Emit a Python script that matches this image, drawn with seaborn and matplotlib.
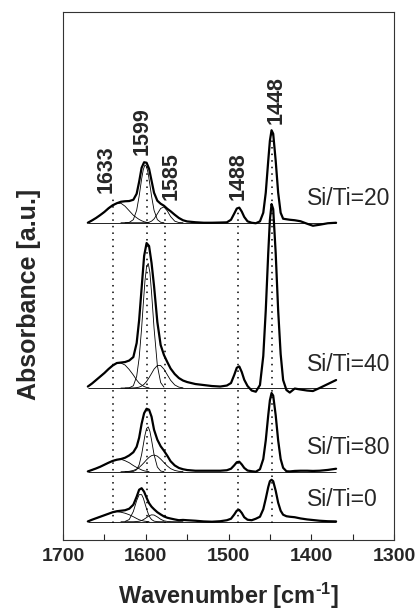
import pandas as pd
import matplotlib
matplotlib.use("Agg")
import matplotlib.pyplot as plt
import seaborn as sns

# --- measured spectra (wavenumber in cm-1, absorbance in a.u. above each baseline) ---
wn = [1670, 1665, 1660, 1655, 1650, 1645, 1640, 1635, 1630, 1625,
      1620, 1615, 1611, 1608, 1605, 1602, 1599, 1596, 1593, 1590,
      1586, 1582, 1578, 1574, 1570, 1565, 1560, 1555, 1550, 1540,
      1530, 1520, 1510, 1502, 1497, 1493, 1490, 1487, 1484, 1481,
      1477, 1472, 1467, 1462, 1458, 1455, 1452, 1450, 1448, 1446,
      1443, 1440, 1437, 1434, 1430, 1426, 1420, 1413, 1405, 1398,
      1390, 1380, 1370]

total_20 = [0, 2.3, 4.8, 7.7, 10.8, 14.5, 17.5, 19.5, 21, 21.5,
            21.7, 23, 29, 41, 55, 60.5, 60, 54, 42, 30,
            22, 19, 17, 14, 11.5, 8, 4.8, 2.5, 1.3, 0.5,
            0, 0, 0.2, 0.4, 3, 9.3, 14.2, 15.1, 11.2, 5.8,
            1.4, 0, -0.5, 1.4, 10, 30, 62, 82, 92.5, 89,
            62, 30, 10, 4, 3.5, 3, 2.5, 1.5, -1, -3,
            -2, -0.5, 0]
total_40 = [1.5, 4.5, 8, 11.5, 15, 19, 22.5, 25, 25.5, 26,
            27.5, 31, 45, 68, 100, 132, 145, 142, 125, 102,
            66, 43, 33, 26, 19.5, 14, 10, 7.5, 6, 4,
            3, 2, 1.5, 2.5, 5, 13.3, 20.3, 21.6, 16, 8.3,
            2, -2.5, -3.7, 3, 32, 77.5, 135, 168, 184, 179,
            135, 77.5, 34, 8, -2, -4.5, -0.5, -1.5, -2.5, -3,
            0, 4, 8]
total_80 = [0.3, 1.8, 3.3, 5, 7, 9, 10.8, 12, 12.7, 14,
            16.3, 19.5, 25, 34, 48, 58.5, 63, 62, 55, 42,
            32, 25.5, 21, 16, 10.5, 6.3, 3.8, 2.5, 1.7, 1,
            1, 1, 1, 1.5, 3, 6.5, 9.5, 10, 7.3, 3.8,
            1.2, 0.5, 0, 2.5, 12.7, 31.3, 56.5, 71.4, 78.7, 76.1,
            56.5, 31.3, 12.7, 3.9, 0.5, 0.3, 0.8, 1, 1, 0.8,
            1, 1.8, 3]
total_0 = [0.3, 2, 3.5, 5, 6.5, 8, 9.5, 10.5, 11, 11.5,
           13, 17, 25, 32, 33.5, 30, 24, 18.5, 15, 12.5,
           9.5, 7.3, 5.3, 4, 3.2, 2.3, 1.5, 1.8, 1.5, 1,
           0.3, 0, 0.5, 1.5, 3, 7.3, 11.1, 11.8, 8.8, 4.5,
           2, 1.5, 3, 5, 12.5, 23, 34.6, 40.5, 42, 40.5,
           31, 19, 11, 7, 5.5, 5, 4.5, 3.3, 2.3, 1.7,
           1, 0.5, 0.3]

# --- deconvoluted bands ---
wn_1633 = [1670, 1665, 1660, 1655, 1650, 1645, 1640, 1635, 1630, 1625,
           1620, 1615, 1611, 1608, 1605, 1602, 1599, 1596]
band1633_20 = [0, 2.3, 4.8, 7.7, 10.8, 14, 17, 19.3, 19.5, 16.5, 12, 7.5, 5, 3.3, 2, 1, 0.4, 0]
band1633_40 = [1.5, 4.5, 8, 11.5, 15, 19, 22.5, 25, 25, 23, 18.5, 13, 8, 5, 3, 1.5, 0.6, 0.2]
band1633_80 = [0.3, 1.8, 3.3, 5, 7, 9, 10.8, 12.2, 12.5, 11, 9, 6.2, 4.3, 3, 1.8, 0.9, 0.4, 0.1]
band1633_0 = [0.3, 2, 3.5, 5, 6.5, 8, 9.5, 10, 9.5, 8.5, 7, 5, 3.2, 2, 1.2, 0.6, 0.3, 0.1]

wn_1599 = [1625, 1620, 1615, 1611, 1608, 1605, 1603, 1601, 1599, 1597,
           1595, 1593, 1590, 1586, 1582, 1578]
band1599_20 = [0, 0.3, 3.1, 12.5, 26.6, 43.8, 53.1, 57.8, 56.2, 49, 38, 26.6, 12.5, 3.1, 0.5, 0]
band1599_40 = [0, 0.2, 2.3, 11.6, 30, 60, 84, 107, 121.5, 124.6, 115.5, 95.5, 60, 22.5, 5.5, 0.9]
band1599_80 = [0, 0, 0.3, 2, 6.9, 17.2, 26.8, 36.4, 43.3, 44.8, 40.4, 31.7, 17.2, 4.7, 0.7, 0.1]
band1599_0 = [0.3, 2.2, 10.3, 21.1, 27.1, 27.1, 23.7, 18.3, 12.8, 8, 4.4, 2.2, 0.6, 0.1, 0, 0]

wn_1585 = [1630, 1625, 1620, 1615, 1611, 1608, 1605, 1602, 1599, 1596,
           1593, 1590, 1586, 1582, 1578, 1574, 1570, 1565, 1560, 1555]
band1585_20 = [0, 0, 0, 0, 0, 0, 0, 0, 0.15, 0.5, 1.6, 3.8, 8.9, 14.3, 15.8, 11.9, 6.2, 1.6, 0.2, 0]
band1585_40 = [0, 0, 0, 0.1, 0.4, 0.9, 2, 3.8, 6.6, 10.4, 14.6, 18.9, 22.5, 22.5, 18.9, 13.3, 7.8, 3.1, 0.9, 0.2]
band1585_80 = [0, 0.1, 0.4, 1.3, 2.7, 4.3, 6.6, 9.2, 12, 14.4, 16.1, 16.7, 15.6, 12.7, 9.2, 5.8, 3.1, 1.3, 0.4, 0.1]
band1585_0 = [0, 0, 0, 0, 0.2, 0.5, 1.2, 2.5, 4.2, 5.9, 6.9, 6.7, 4.8, 2.5, 0.9, 0.3, 0.1, 0, 0, 0]

samples = ["Si/Ti=20", "Si/Ti=40", "Si/Ti=80", "Si/Ti=0"]
totals = [total_20, total_40, total_80, total_0]
bands = {
    "1633": (wn_1633, [band1633_20, band1633_40, band1633_80, band1633_0]),
    "1599": (wn_1599, [band1599_20, band1599_40, band1599_80, band1599_0]),
    "1585": (wn_1585, [band1585_20, band1585_40, band1585_80, band1585_0]),
}

band_labels = ["1633", "1599", "1585", "1488", "1448"]
band_lines = [1640, 1599, 1577, 1488, 1447.5]

# --- layout (vertical stacking in plot units) ---
offsets = [317.3, 152, 68.3, 18.3]
label_base = [335, 169.3, 86, 34]
line_tops = [341, 375, 335, 330, 407]
label_xy = [(1647.4, 370.5), (1604.9, 408.5), (1569.7, 364), (1488.5, 363.5), (1442.8, 440)]

# build long tables
rows = []
for name, off, tot in zip(samples, offsets, totals):
    for x, y in zip(wn, tot):
        rows.append({"wn": x, "abs": y + off, "sample": name})
df_total = pd.DataFrame(rows)

rows = []
for band, (bw, series) in bands.items():
    for name, off, vals in zip(samples, offsets, series):
        for x, y in zip(bw, vals):
            rows.append({"wn": x, "abs": y + off, "curve": name + "_" + band})
df_comp = pd.DataFrame(rows)

sns.set_style("ticks")
plt.rcParams["font.family"] = ["Liberation Sans", "DejaVu Sans"]
plt.rcParams["mathtext.fontset"] = "custom"
plt.rcParams["mathtext.bf"] = "Liberation Sans:bold"
plt.rcParams["mathtext.rm"] = "Liberation Sans:bold"
plt.rcParams["mathtext.default"] = "bf"

fig = plt.figure(figsize=(4.17, 6.12), dpi=100)
ax = fig.add_axes([0.1511, 0.1176, 0.7938, 0.8627])

# baselines of the fits
ax.hlines(offsets, wn[0], wn[-1], color="black", lw=0.6)

# band positions
ax.vlines(band_lines, 17, line_tops, color="black", lw=1.1, linestyles=(0, (1, 3.3)))

sns.lineplot(data=df_comp, x="wn", y="abs", units="curve", estimator=None,
             sort=False, color="black", lw=0.6, ax=ax)
sns.lineplot(data=df_total, x="wn", y="abs", units="sample", estimator=None,
             sort=False, color="black", lw=1.6, ax=ax)

for lab, (x, y) in zip(band_labels, label_xy):
    ax.text(x, y, lab, rotation=90, ha="center", va="center",
            fontsize=15.5, fontweight="bold")

for name, y in zip(samples, label_base):
    ax.text(1405, y, name, ha="left", va="baseline", fontsize=16.5)

ax.set_xlim(1700, 1300)
ax.set_ylim(0, 528)
ax.set_yticks([])
ax.set_xticks([1700, 1600, 1500, 1400, 1300])
ax.set_xticks([1650, 1550, 1450, 1350], minor=True)
ax.tick_params(axis="x", which="both", direction="in", length=4, width=0.8,
               pad=6, labelsize=14)
for t in ax.get_xticklabels():
    t.set_fontweight("bold")
for s in ax.spines.values():
    s.set_linewidth(0.8)
    s.set_color("#333333")

ax.set_xlabel(r"Wavenumber [cm$^{\text{-}1}$]", fontsize=17, fontweight="bold", labelpad=11)
ax.set_ylabel("Absorbance [a.u.]", fontsize=18, fontweight="bold")
ax.yaxis.set_label_coords(-0.065, 0.466)

fig.savefig("out.png", dpi=100)
